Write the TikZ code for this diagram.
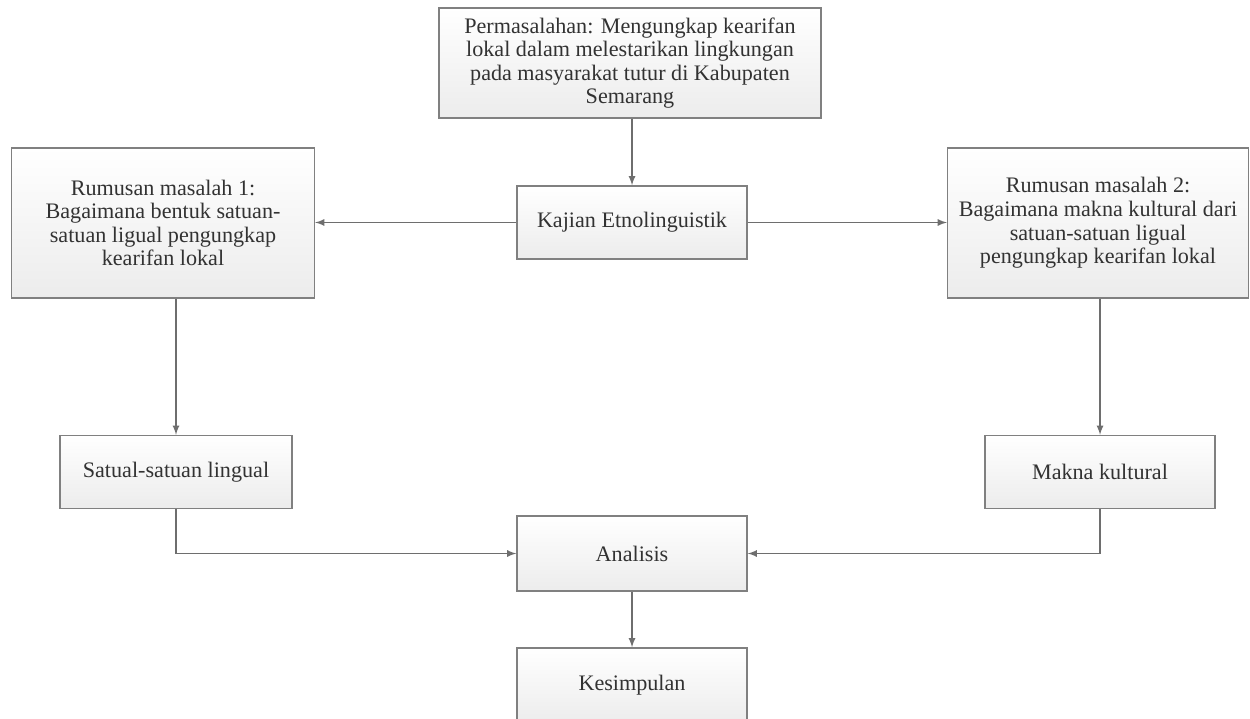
\documentclass[tikz,border=0pt]{standalone}
\usepackage{fontspec}
\setmainfont{Liberation Serif}
\usepackage{tikz}
\usetikzlibrary{calc}
\usetikzlibrary{arrows}
\usetikzlibrary{positioning}
\definecolor{boxline}{RGB}{128, 128, 128}
\definecolor{boxfill}{RGB}{236, 236, 236}
\definecolor{arrowline}{RGB}{110, 110, 110}
\definecolor{boxtext}{RGB}{50, 50, 50}

\tikzset{
    flowbox/.style={draw=boxline, thick, top color=white, bottom color=boxfill,
        align=center, inner sep=2pt, text=boxtext,
        font=\fontsize{12.6}{13.4}\selectfont},
    flowarrow/.style={draw=arrowline, thick, -latex}
}

\begin{document}
\begin{tikzpicture}[x=0.02cm, y=-0.02cm]
            \useasboundingbox (0, 0) rectangle (1250, 719);
            \node[flowbox, minimum width=7.64cm, minimum height=2.2cm] (masalah)   at ( 630,  63.0)
                 {Permasalahan: Mengungkap kearifan\\lokal dalam melestarikan lingkungan\\pada masyarakat tutur di Kabupaten\\Semarang};
            \node[flowbox, minimum width=4.60cm, minimum height=1.46cm] (kajian)    at ( 632, 222.5) {Kajian Etnolinguistik};
            \node[flowbox, minimum width=6.06cm, minimum height=3.00cm] (rumusan1)  at ( 163, 223.0)
                 {Rumusan masalah 1:\\Bagaimana bentuk satuan-\\satuan ligual pengungkap\\kearifan lokal};
            \node[flowbox, minimum width=6.02cm, minimum height=3.00cm] (rumusan2)  at (1098, 223.0)
                 {Rumusan masalah 2:\\Bagaimana makna kultural dari\\satuan-satuan ligual\\pengungkap kearifan lokal};
            \node[flowbox, minimum width=4.64cm, minimum height=1.46cm] (satuan)    at ( 176, 472.0) {Satual-satuan lingual};
            \node[flowbox, minimum width=4.60cm, minimum height=1.46cm] (makna)     at (1100, 472.0) {Makna kultural};
            \node[flowbox, minimum width=4.60cm, minimum height=1.50cm] (analisis)  at ( 632, 553.5) {Analisis};
            \node[flowbox, minimum width=4.60cm, minimum height=1.50cm] (simpulan)  at ( 632, 685.5) {Kesimpulan};

            \draw[flowarrow] (masalah.south -| kajian.north) -- (kajian.north);
            \draw[flowarrow] (kajian.west) -- (rumusan1.east |- kajian.west);
            \draw[flowarrow] (kajian.east) -- (rumusan2.west |- kajian.east);
            \draw[flowarrow] (satuan.north |- rumusan1.south) -- (satuan.north);
            \draw[flowarrow] (makna.north |- rumusan2.south) -- (makna.north);
            \draw[flowarrow] (satuan.south) |- (analisis.west);
            \draw[flowarrow] (makna.south) |- (analisis.east);
            \draw[flowarrow] (analisis.south) -- (simpulan.north);
        \end{tikzpicture}
\end{document}
